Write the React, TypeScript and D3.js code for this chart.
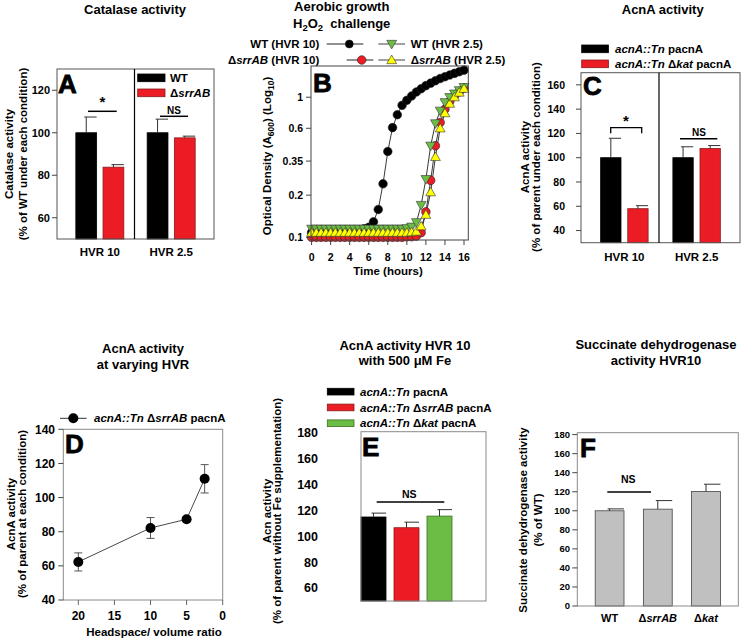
import React from "react";
import * as d3 from "d3";

const FONT = "'Liberation Sans', Arial, Helvetica, sans-serif";

// ---- A: catalase activity ----
const hvrGroups = ["HVR 10", "HVR 2.5"];
const catalaseStrains = ["WT", "ΔsrrAB"];
const catalaseWT = [100, 100];
const catalaseWTErr = [7.4, 6.4];
const catalaseSrrAB = [83.8, 97.6];
const catalaseSrrABErr = [1.2, 0.8];
const catalaseTicks = [60, 80, 100, 120];

// ---- B: aerobic growth, H2O2 challenge ----
const growthHours = [0, 0.5, 1, 1.5, 2, 2.5, 3, 3.5, 4, 4.5, 5, 5.5, 6, 6.5, 7, 7.5, 8, 8.5, 9, 9.5, 10, 10.5, 11, 11.5, 12, 12.5, 13, 13.5, 14, 14.5, 15, 15.5, 16];
const odWT10 = [0.108, 0.108, 0.109, 0.109, 0.11, 0.11, 0.11, 0.111, 0.111, 0.112, 0.113, 0.115, 0.118, 0.129, 0.158, 0.241, 0.41, 0.607, 0.75, 0.875, 0.95, 1.02, 1.09, 1.15, 1.21, 1.26, 1.31, 1.36, 1.4, 1.44, 1.48, 1.52, 1.56];
const odSrr10 = [0.1, 0.1, 0.1, 0.1, 0.1, 0.1, 0.1, 0.1, 0.1, 0.1, 0.1, 0.1, 0.1, 0.1, 0.1, 0.1, 0.1, 0.1, 0.1, 0.1, 0.101, 0.101, 0.102, 0.108, 0.152, 0.255, 0.45, 0.66, 0.82, 0.93, 1.02, 1.09, 1.16];
const odWT25 = [0.115, 0.115, 0.115, 0.115, 0.115, 0.115, 0.115, 0.115, 0.115, 0.115, 0.115, 0.115, 0.115, 0.115, 0.115, 0.115, 0.115, 0.115, 0.115, 0.115, 0.116, 0.119, 0.128, 0.17, 0.26, 0.45, 0.65, 0.8, 0.92, 1.0, 1.06, 1.12, 1.18];
const odSrr25 = [0.108, 0.108, 0.108, 0.108, 0.108, 0.108, 0.108, 0.108, 0.108, 0.108, 0.108, 0.108, 0.108, 0.108, 0.108, 0.108, 0.108, 0.108, 0.108, 0.108, 0.108, 0.109, 0.11, 0.12, 0.145, 0.21, 0.375, 0.6, 0.77, 0.9, 1.0, 1.08, 1.15];
const odTicks = [0.1, 0.2, 0.35, 0.6, 1];
const hourTicks = [0, 2, 4, 6, 8, 10, 12, 14, 16];

// ---- C: AcnA activity ----
const acnStrains = ["acnA::Tn pacnA", "acnA::Tn Δkat pacnA"];
const acnParent = [100, 100];
const acnParentErr = [16, 9];
const acnKat = [58, 107.5];
const acnKatErr = [2.5, 2.5];
const acnTicks = [40, 60, 80, 100, 120, 140, 160];

// ---- D: AcnA at varying HVR ----
const hvrRatio = [20, 10, 5, 2.5];
const acnSrrAB = [62.3, 82.2, 87.3, 111];
const acnSrrABErr = [5.3, 6.1, 1.5, 8.3];
const ratioTicks = [20, 15, 10, 5, 0];
const acnDTicks = [40, 60, 80, 100, 120, 140];

// ---- E: AcnA with Fe ----
const feStrains = ["acnA::Tn pacnA", "acnA::Tn ΔsrrAB pacnA", "acnA::Tn Δkat pacnA"];
const feActivity = [115, 106.7, 115.7];
const feErr = [3, 4.3, 5];
const feTicks = [60, 80, 100, 120, 140, 160, 180];

// ---- F: succinate dehydrogenase ----
const sdhStrains = ["WT", "ΔsrrAB", "Δkat"];
const sdhActivity = [100, 101.7, 120.3];
const sdhErr = [2, 9, 7.6];
const sdhTicks = [0, 20, 40, 60, 80, 100, 120, 140, 160, 180];

const RED = "#ec1c24";
const GREEN = "#6cbd45";
const YELLOW = "#ffff00";

function rich(label: string) {
  const words = label.split(" ");
  const out: React.ReactNode[] = [];
  words.forEach((w, i) => {
    const sp = i < words.length - 1 ? " " : "";
    if (w.startsWith("Δ")) {
      out.push(<tspan key={i + "d"} fontStyle="normal">Δ</tspan>);
      out.push(<tspan key={i} fontStyle="italic">{w.slice(1) + sp}</tspan>);
    } else if (w.includes("::")) {
      out.push(<tspan key={i} fontStyle="italic">{w + sp}</tspan>);
    } else {
      out.push(<tspan key={i}>{w + sp}</tspan>);
    }
  });
  return out;
}

function YAxis({ scale, ticks, x, labelX, size, fmt }: any) {
  return (
    <g>
      {ticks.map((t: number) => (
        <g key={t}>
          <line x1={x - 5} x2={x} y1={scale(t)} y2={scale(t)} stroke="#444" />
          <text x={labelX} y={scale(t)} dy="0.35em" textAnchor="end" fontSize={size} fontWeight="bold">
            {fmt ? fmt(t) : t}
          </text>
        </g>
      ))}
    </g>
  );
}

function RotLabel({ x, y, size = 11.5, children }: any) {
  return (
    <text transform={`translate(${x},${y}) rotate(-90)`} textAnchor="middle" dy="0.35em" fontSize={size} fontWeight="bold">
      {children}
    </text>
  );
}

function Title({ x, y, lines }: any) {
  return (
    <g>
      {lines.map((l: any, i: number) => (
        <text key={i} x={x} y={y + i * 16} dy="0.35em" textAnchor="middle" fontSize={13} fontWeight="bold">
          {l}
        </text>
      ))}
    </g>
  );
}

function Letter({ x, y, ch }: any) {
  return (
    <text x={x} y={y} fontSize={26} fontWeight="bold" stroke="#000" strokeWidth={0.8}>
      {ch}
    </text>
  );
}

function ErrUp({ cx, right, y0, y1 }: any) {
  return (
    <g stroke="#333" strokeWidth={1}>
      <line x1={cx} x2={cx} y1={y0} y2={y1} />
      <line x1={cx - 2} x2={right} y1={y1} y2={y1} />
    </g>
  );
}

function PanelA() {
  const f = { x0: 57, x1: 214, y0: 69, y1: 239 };
  const y = d3.scaleLinear().domain([50, 130]).range([f.y1, f.y0]);
  const xg = d3.scaleBand().domain(hvrGroups).range([f.x0, f.x1]).paddingInner(0.327).paddingOuter(0.264);
  const xs = d3.scaleBand().domain(catalaseStrains).range([0, xg.bandwidth()]).paddingInner(0.235);
  const series = [
    { key: "WT", vals: catalaseWT, err: catalaseWTErr, fill: "#000", stroke: "#000" },
    { key: "ΔsrrAB", vals: catalaseSrrAB, err: catalaseSrrABErr, fill: RED, stroke: "#8a1a1a" },
  ];
  const bw = xs.bandwidth();
  const divX = (xg(hvrGroups[0])! + xg.bandwidth() + xg(hvrGroups[1])!) / 2 - 1;
  return (
    <g>
      <Title x={135} y={9.5} lines={["Catalase activity"]} />
      {series.map((s) =>
        hvrGroups.map((g, i) => {
          const x = xg(g)! + xs(s.key)!;
          return (
            <g key={s.key + g}>
              <rect x={x} y={y(s.vals[i])} width={bw} height={y(50) - y(s.vals[i])} fill={s.fill} stroke={s.stroke} strokeWidth={0.8} />
              <ErrUp cx={x + bw / 2} right={x + bw} y0={y(s.vals[i])} y1={y(s.vals[i] + s.err[i])} />
            </g>
          );
        })
      )}
      <rect x={f.x0} y={f.y0} width={f.x1 - f.x0} height={f.y1 - f.y0} fill="none" stroke="#555" />
      <line x1={divX} x2={divX} y1={f.y0} y2={f.y1} stroke="#000" strokeWidth={1.2} />
      <YAxis scale={y} ticks={catalaseTicks} x={f.x0} labelX={50} size={11} />
      {hvrGroups.map((g) => (
        <text key={g} x={xg(g)! + xg.bandwidth() / 2} y={251.5} dy="0.35em" textAnchor="middle" fontSize={11.5} fontWeight="bold">
          {g}
        </text>
      ))}
      <RotLabel x={8.5} y={154}>Catalase activity</RotLabel>
      <RotLabel x={22.5} y={154}>(% of WT under each condition)</RotLabel>
      <Letter x={58} y={92.5} ch="A" />
      {/* significance */}
      <line x1={88} x2={116.7} y1={111.3} y2={111.3} stroke="#000" strokeWidth={1.5} />
      <text x={102.3} y={107} textAnchor="middle" fontSize={15} fontWeight="bold">*</text>
      <line x1={160} x2={188} y1={116.3} y2={116.3} stroke="#000" strokeWidth={1.5} />
      <text x={174} y={110} dy="0.35em" textAnchor="middle" fontSize={10} fontWeight="bold">NS</text>
      {/* legend */}
      {series.map((s, i) => (
        <g key={s.key}>
          <rect x={137.7} y={74 + i * 15} width={27.3} height={7.7} fill={s.fill} stroke={s.stroke} strokeWidth={0.8} />
          <text x={170} y={78 + i * 15} dy="0.35em" fontSize={11.5} fontWeight="bold">{rich(s.key)}</text>
        </g>
      ))}
    </g>
  );
}

function PanelB() {
  const f = { x0: 311, x1: 468.3, y0: 66, y1: 240 };
  const y = d3.scaleLog().domain([0.0957, 1.67]).range([f.y1, f.y0]);
  const x = d3.scaleLinear().domain([-0.06, 16.45]).range([f.x0, f.x1]);
  const line = d3.line<number>().x((_, i) => x(growthHours[i])).y((d) => y(d));
  const tri = d3.symbol().type(d3.symbolTriangle).size(42)()!;
  const series = [
    { key: "WT (HVR 10)", vals: odWT10, shape: "circle", fill: "#000" },
    { key: "ΔsrrAB (HVR 10)", vals: odSrr10, shape: "circle", fill: RED },
    { key: "WT (HVR 2.5)", vals: odWT25, shape: "down", fill: GREEN },
    { key: "ΔsrrAB (HVR 2.5)", vals: odSrr25, shape: "up", fill: YELLOW },
  ];
  const marker = (shape: string, fill: string, cx: number, cy: number, k: any, r = 4.3) =>
    shape === "circle" ? (
      <circle key={k} cx={cx} cy={cy} r={r} fill={fill} stroke="#222" strokeWidth={0.6} />
    ) : (
      <path key={k} d={tri} transform={`translate(${cx},${cy + (shape === "down" ? -0.8 : 0.8)}) rotate(${shape === "down" ? 180 : 0})`} fill={fill} stroke="#333" strokeWidth={0.6} />
    );
  return (
    <g>
      <Title x={341.7} y={6.5} lines={["Aerobic growth"]} />
      <text x={341.7} y={27.5} textAnchor="middle" fontSize={13} fontWeight="bold">
        <tspan>H</tspan>
        <tspan dy={3} fontSize={9.5}>2</tspan>
        <tspan dy={-3}>O</tspan>
        <tspan dy={3} fontSize={9.5}>2</tspan>
        <tspan dy={-3}>{"\u00a0 challenge"}</tspan>
      </text>
      {/* legend */}
      <text x={319.3} y={44} dy="0.35em" textAnchor="end" fontSize={11.5} fontWeight="bold">{rich(series[0].key)}</text>
      <line x1={326.7} x2={363.3} y1={44} y2={44} stroke="#222" />
      {marker("circle", "#000", 349.3, 44, "l0", 4)}
      <text x={319.3} y={60} dy="0.35em" textAnchor="end" fontSize={11.5} fontWeight="bold">{rich(series[1].key)}</text>
      <line x1={346.7} x2={373.3} y1={60} y2={60} stroke="#222" />
      {marker("circle", RED, 361.7, 60, "l1", 4.3)}
      <line x1={378.3} x2={405} y1={44} y2={44} stroke="#444" />
      {marker("down", GREEN, 391.7, 44, "l2")}
      <text x={410.7} y={44} dy="0.35em" fontSize={11.5} fontWeight="bold">{rich(series[2].key)}</text>
      <line x1={378.3} x2={405} y1={60} y2={60} stroke="#444" />
      {marker("up", YELLOW, 391.7, 60, "l3")}
      <text x={410.7} y={60} dy="0.35em" fontSize={11.5} fontWeight="bold">{rich(series[3].key)}</text>
      {/* data */}
      {series.map((s) => (
        <path key={s.key} d={line(s.vals)!} fill="none" stroke="#222" strokeWidth={0.9} />
      ))}
      {[series[0], series[1], series[2], series[3]].map((s) =>
        s.vals.map((v, i) => marker(s.shape, s.fill, x(growthHours[i]), y(v), s.key + i))
      )}
      <rect x={f.x0} y={f.y0} width={f.x1 - f.x0} height={f.y1 - f.y0} fill="none" stroke="#444" />
      <YAxis scale={y} ticks={odTicks} x={f.x0} labelX={303} size={10.5} />
      {hourTicks.map((t) => (
        <g key={t}>
          <line x1={x(t)} x2={x(t)} y1={f.y1} y2={f.y1 + 5} stroke="#444" />
          <text x={x(t)} y={257.7} dy="0.35em" textAnchor="middle" fontSize={10.5} fontWeight="bold">{t}</text>
        </g>
      ))}
      <text x={388} y={271} dy="0.35em" textAnchor="middle" fontSize={11.5} fontWeight="bold">Time (hours)</text>
      <RotLabel x={266.7} y={156}>
        <tspan>Optical Density (A</tspan>
        <tspan dy={3} fontSize={8.5}>600</tspan>
        <tspan dy={-3}>) (Log</tspan>
        <tspan dy={3} fontSize={8.5}>10</tspan>
        <tspan dy={-3}>)</tspan>
      </RotLabel>
      <Letter x={313} y={92} ch="B" />
    </g>
  );
}

function PanelC() {
  const f = { x0: 581, x1: 740, y0: 72.7, y1: 242.7 };
  const y = d3.scaleLinear().domain([30, 170]).range([f.y1, f.y0]);
  const xg = d3.scaleBand().domain(hvrGroups).range([f.x0, f.x1]).paddingInner(0.343).paddingOuter(0.272);
  const xs = d3.scaleBand().domain(acnStrains).range([0, xg.bandwidth()]).paddingInner(0.25);
  const bw = xs.bandwidth();
  const series = [
    { key: acnStrains[0], vals: acnParent, err: acnParentErr, fill: "#000", stroke: "#000" },
    { key: acnStrains[1], vals: acnKat, err: acnKatErr, fill: RED, stroke: "#8a1a1a" },
  ];
  const divX = (xg(hvrGroups[0])! + xg.bandwidth() + xg(hvrGroups[1])!) / 2 - 1.5;
  return (
    <g>
      <Title x={662.7} y={9} lines={["AcnA activity"]} />
      {series.map((s) =>
        hvrGroups.map((g, i) => {
          const x = xg(g)! + xs(s.key)!;
          return (
            <g key={s.key + g}>
              <rect x={x} y={y(s.vals[i])} width={bw} height={y(30) - y(s.vals[i])} fill={s.fill} stroke={s.stroke} strokeWidth={0.8} />
              <ErrUp cx={x + bw / 2} right={x + bw} y0={y(s.vals[i])} y1={y(s.vals[i] + s.err[i])} />
            </g>
          );
        })
      )}
      <rect x={f.x0} y={f.y0} width={f.x1 - f.x0} height={f.y1 - f.y0} fill="none" stroke="#555" />
      <line x1={divX} x2={divX} y1={f.y0} y2={f.y1} stroke="#000" strokeWidth={1.2} />
      <YAxis scale={y} ticks={acnTicks} x={f.x0} labelX={565} size={10.5} />
      {hvrGroups.map((g) => (
        <text key={g} x={xg(g)! + xg.bandwidth() / 2} y={256.5} dy="0.35em" textAnchor="middle" fontSize={11.5} fontWeight="bold">
          {g}
        </text>
      ))}
      <RotLabel x={525} y={157}>AcnA activity</RotLabel>
      <RotLabel x={536} y={157}>(% of parent under each condition)</RotLabel>
      <Letter x={583} y={95} ch="C" />
      <path d="M610.7,133.3V127.7H641.7V133.3" fill="none" stroke="#000" strokeWidth={1.3} />
      <text x={626} y={126} textAnchor="middle" fontSize={15} fontWeight="bold">*</text>
      <line x1={680} x2={717.3} y1={138.7} y2={138.7} stroke="#000" strokeWidth={1.5} />
      <text x={699} y={132.7} dy="0.35em" textAnchor="middle" fontSize={10} fontWeight="bold">NS</text>
      {series.map((s, i) => (
        <g key={s.key}>
          <rect x={581.7} y={45 + i * 15} width={26.7} height={7.7} fill={s.fill} stroke={s.stroke} strokeWidth={0.8} />
          <text x={615} y={49 + i * 15} dy="0.35em" fontSize={11.5} fontWeight="bold">{rich(s.key)}</text>
        </g>
      ))}
    </g>
  );
}

function PanelD() {
  const f = { x0: 63.3, x1: 222.7, y0: 429.3, y1: 600 };
  const x = d3.scaleLinear().domain([22.08, 0]).range([f.x0, f.x1]);
  const y = d3.scaleLinear().domain([40, 140]).range([f.y1, f.y0]);
  const line = d3.line<number>().x((d) => x(d)).y((_, i) => y(acnSrrAB[i]));
  return (
    <g>
      <Title x={143} y={348} lines={["AcnA activity", "at varying HVR"]} />
      <rect x={f.x0} y={f.y0} width={f.x1 - f.x0} height={f.y1 - f.y0} fill="none" stroke="#8a8a8a" />
      <YAxis scale={y} ticks={acnDTicks} x={f.x0} labelX={55} size={12} />
      {ratioTicks.map((t) => (
        <g key={t}>
          <line x1={x(t)} x2={x(t)} y1={f.y1} y2={f.y1 + 5} stroke="#666" />
          <text x={x(t)} y={616} dy="0.35em" textAnchor="middle" fontSize={12} fontWeight="bold">{t}</text>
        </g>
      ))}
      <path d={line(hvrRatio)!} fill="none" stroke="#333" strokeWidth={0.9} />
      {hvrRatio.map((r, i) => {
        const cx = x(r);
        const top = y(acnSrrAB[i] + acnSrrABErr[i]);
        const bot = y(acnSrrAB[i] - acnSrrABErr[i]);
        return (
          <g key={r} stroke="#555" strokeWidth={1}>
            <line x1={cx} x2={cx} y1={top} y2={bot} />
            <line x1={cx - 4} x2={cx + 4} y1={top} y2={top} />
            <line x1={cx - 4} x2={cx + 4} y1={bot} y2={bot} />
          </g>
        );
      })}
      {hvrRatio.map((r, i) => (
        <circle key={r} cx={x(r)} cy={y(acnSrrAB[i])} r={5} fill="#000" />
      ))}
      <text x={154} y={632} dy="0.35em" textAnchor="middle" fontSize={11.5} fontWeight="bold">Headspace/ volume ratio</text>
      <RotLabel x={11} y={514}>AcnA activity</RotLabel>
      <RotLabel x={22} y={514}>(% of parent at each condition)</RotLabel>
      <line x1={60} x2={86.7} y1={418.3} y2={418.3} stroke="#333" />
      <circle cx={73.3} cy={418.3} r={5} fill="#000" />
      <text x={94} y={418.3} dy="0.35em" fontSize={11.5} fontWeight="bold">{rich("acnA::Tn ΔsrrAB pacnA")}</text>
      <Letter x={65} y={453} ch="D" />
    </g>
  );
}

function PanelE() {
  const f = { x0: 361, x1: 486, y0: 431.7, y1: 601 };
  const y = d3.scaleLinear().domain([50, 181]).range([f.y1, f.y0]);
  const xs = d3.scaleBand().domain(feStrains).range([361, 452]).paddingInner(8 / 33);
  const bw = xs.bandwidth();
  const fills = ["#000", RED, GREEN];
  const strokes = ["#000", "#8a1a1a", "#3d6e25"];
  return (
    <g>
      <Title x={405} y={345} lines={["AcnA activity HVR 10"]} />
      <text x={405} y={365} textAnchor="middle" fontSize={13} fontWeight="bold">with 500 μM Fe</text>
      {feStrains.map((s, i) => {
        const x = xs(s)!;
        return (
          <g key={s}>
            <rect x={x} y={y(feActivity[i])} width={bw} height={y(50) - y(feActivity[i])} fill={fills[i]} stroke={strokes[i]} strokeWidth={0.8} />
            <ErrUp cx={x + bw / 2} right={x + bw} y0={y(feActivity[i])} y1={y(feActivity[i] + feErr[i])} />
          </g>
        );
      })}
      <rect x={f.x0} y={f.y0} width={f.x1 - f.x0} height={f.y1 - f.y0} fill="none" stroke="#8a8a8a" />
      {feTicks.map((t) => (
        <text key={t} x={318} y={y(t)} dy="0.35em" textAnchor="end" fontSize={12.5} fontWeight="bold">{t}</text>
      ))}
      <line x1={376.7} x2={444.3} y1={502} y2={502} stroke="#000" strokeWidth={1.5} />
      <text x={409.3} y={494} dy="0.35em" textAnchor="middle" fontSize={10.5} fontWeight="bold">NS</text>
      <RotLabel x={266.7} y={511}>Acn activity</RotLabel>
      <RotLabel x={277} y={511}>(% of parent without Fe supplementation)</RotLabel>
      {feStrains.map((s, i) => (
        <g key={s}>
          <rect x={327.3} y={388.3 + i * 15.8} width={26.7} height={6.7} fill={fills[i]} stroke={strokes[i]} strokeWidth={0.8} />
          <text x={360} y={391.7 + i * 15.8} dy="0.35em" fontSize={11.5} fontWeight="bold">{rich(s)}</text>
        </g>
      ))}
      <Letter x={362} y={456} ch="E" />
    </g>
  );
}

function PanelF() {
  const f = { x0: 577.3, x1: 738.3, y0: 432.7, y1: 606 };
  const y = d3.scaleLinear().domain([0, 182]).range([f.y1, f.y0]);
  const xs = d3.scaleBand().domain(sdhStrains).range([f.x0, f.x1]).paddingInner(0.402).paddingOuter(0.371);
  const bw = xs.bandwidth();
  return (
    <g>
      <Title x={656} y={344.5} lines={["Succinate dehydrogenase", "activity HVR10"]} />
      {sdhStrains.map((s, i) => {
        const x = xs(s)!;
        return (
          <g key={s}>
            <rect x={x} y={y(sdhActivity[i])} width={bw} height={y(0) - y(sdhActivity[i])} fill="#c0c0c0" stroke="#444" strokeWidth={0.8} />
            <ErrUp cx={x + bw / 2} right={x + bw} y0={y(sdhActivity[i])} y1={y(sdhActivity[i] + sdhErr[i])} />
          </g>
        );
      })}
      <rect x={f.x0} y={f.y0} width={f.x1 - f.x0} height={f.y1 - f.y0} fill="none" stroke="#8a8a8a" />
      <YAxis scale={y} ticks={sdhTicks} x={f.x0} labelX={570} size={9.5} />
      {sdhStrains.map((s) => (
        <text key={s} x={xs(s)! + bw / 2} y={618.5} dy="0.35em" textAnchor="middle" fontSize={11} fontWeight="bold">{rich(s)}</text>
      ))}
      <line x1={607.3} x2={651} y1={492} y2={492} stroke="#000" strokeWidth={1.5} />
      <text x={628.3} y={479} dy="0.35em" textAnchor="middle" fontSize={10.5} fontWeight="bold">NS</text>
      <RotLabel x={523.3} y={520}>Succinate dehydrogenase activity</RotLabel>
      <RotLabel x={538.3} y={520}>(% of WT)</RotLabel>
      <Letter x={580} y={457} ch="F" />
    </g>
  );
}

export default function App() {
  return (
    <svg width={741} height={640} viewBox="0 0 741 640" style={{ position: "absolute", left: 0, top: 0, background: "#fff" }} fontFamily={FONT}>
      <rect width={741} height={640} fill="#fff" />
      <PanelA />
      <PanelB />
      <PanelC />
      <PanelD />
      <PanelE />
      <PanelF />
    </svg>
  );
}
